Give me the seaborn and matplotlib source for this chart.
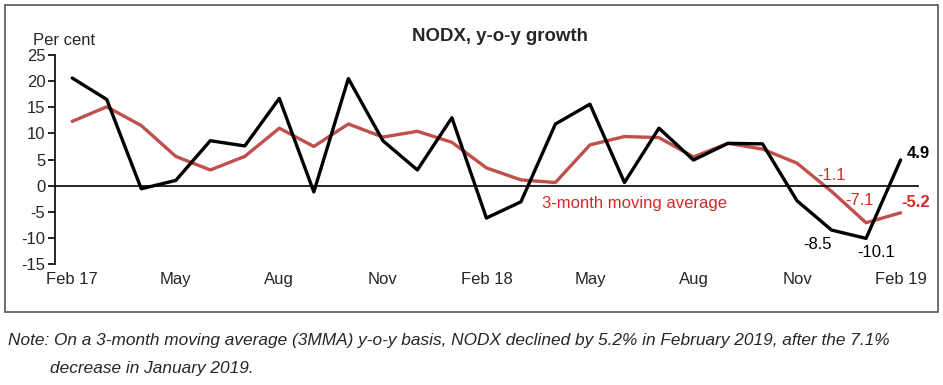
import numpy as np
import matplotlib
matplotlib.use("Agg")
import matplotlib.pyplot as plt
import seaborn as sns
import pandas as pd
from matplotlib.patches import Rectangle

# Данные: Feb 17 .. Feb 19 (25 месяцев)
months = ["Feb 17", "Mar", "Apr", "May", "Jun", "Jul", "Aug", "Sep", "Oct", "Nov", "Dec",
          "Jan 18", "Feb 18", "Mar", "Apr", "May", "Jun", "Jul", "Aug", "Sep", "Oct", "Nov",
          "Dec", "Jan 19", "Feb 19"]
nodx_yoy = [20.6, 16.5, -0.6, 1.0, 8.6, 7.6, 16.7, -1.2, 20.5, 8.6, 3.0, 13.0,
            -6.2, -3.1, 11.8, 15.6, 0.6, 11.0, 4.9, 8.1, 8.0, -2.9, -8.5, -10.1, 4.9]
nodx_3mma = [12.3, 15.1, 11.5, 5.6, 3.0, 5.6, 11.0, 7.5, 11.8, 9.3, 10.4, 8.3,
             3.4, 1.1, 0.6, 7.8, 9.4, 9.2, 5.5, 8.1, 7.0, 4.3, -1.1, -7.1, -5.2]
tick_pos = [0, 3, 6, 9, 12, 15, 18, 21, 24]
tick_labels = ["Feb 17", "May", "Aug", "Nov", "Feb 18", "May", "Aug", "Nov", "Feb 19"]

df = pd.DataFrame({"idx": np.arange(len(months)), "yoy": nodx_yoy, "mma": nodx_3mma})

sns.set_style("white")
plt.rcParams["font.family"] = ["Liberation Sans", "DejaVu Sans"]
plt.rcParams["axes.unicode_minus"] = False

red_line = "#C0504D"
red_text = "#D42A2A"
fs = 12

fig = plt.figure(figsize=(9.43, 3.85), dpi=100)
ax = fig.add_axes([0.0583, 0.3143, 0.915, 0.5427])

sns.lineplot(data=df, x="idx", y="mma", color=red_line, lw=2.4, ax=ax)
sns.lineplot(data=df, x="idx", y="yoy", color="black", lw=2.4, ax=ax)

ax.set_xlim(-0.5, 24.5)
ax.set_ylim(-15, 25)
ax.set_yticks(range(-15, 30, 5))
ax.set_xlabel("")
ax.set_ylabel("")

# ось X проходит через ноль
for s in ["top", "right"]:
    ax.spines[s].set_visible(False)
ax.spines["left"].set_linewidth(1.2)
ax.spines["left"].set_color("black")
ax.spines["bottom"].set_position(("data", 0))
ax.spines["bottom"].set_linewidth(1.2)
ax.spines["bottom"].set_color("black")

ax.set_xticks(tick_pos)
ax.set_xticklabels(tick_labels)
ax.set_xticks(np.arange(0.5, 24.5, 1), minor=True)
ax.tick_params(axis="x", which="major", length=0, pad=62, labelsize=fs)
ax.tick_params(axis="x", which="minor", length=5, width=1.2, direction="out", color="black")
ax.tick_params(axis="y", length=5, width=1.2, direction="out", color="black", labelsize=fs, pad=2)
ax.tick_params(axis="y", left=True)

ax.text(-1.15, 26.3, "Per cent", fontsize=fs, ha="left", va="bottom")
fig.text(0.53, 0.905, "NODX, y-o-y growth", fontsize=13.4, fontweight="bold", ha="center", va="center")

# подписи
ax.text(16.3, -3.4, "3-month moving average", color=red_text, fontsize=fs, ha="center", va="center")
ax.text(22.0, 1.9, "-1.1", color=red_text, fontsize=fs, ha="center", va="center")
ax.text(22.8, -2.9, "-7.1", color=red_text, fontsize=fs, ha="center", va="center")
ax.text(24.45, -3.2, "-5.2", color=red_text, fontsize=fs, fontweight="bold", ha="center", va="center")
ax.text(24.5, 6.1, "4.9", color="black", fontsize=fs, fontweight="bold", ha="center", va="center")
ax.text(21.6, -11.2, "-8.5", color="black", fontsize=fs, ha="center", va="center")
ax.text(23.3, -12.8, "-10.1", color="black", fontsize=fs, ha="center", va="center")

# рамка вокруг графика
fig.patches.append(Rectangle((5 / 943, 1 - 312 / 385), 933 / 943, 307 / 385,
                             transform=fig.transFigure, fill=False,
                             edgecolor="#555555", lw=1.2))

fig.text(8 / 943, 1 - 340 / 385,
         "Note: On a 3-month moving average (3MMA) y-o-y basis, NODX declined by 5.2% in February 2019, after the 7.1%",
         fontsize=12.4, style="italic", ha="left", va="center")
fig.text(50 / 943, 1 - 368 / 385, "decrease in January 2019.",
         fontsize=12.4, style="italic", ha="left", va="center")

fig.savefig("out.png", dpi=100)
